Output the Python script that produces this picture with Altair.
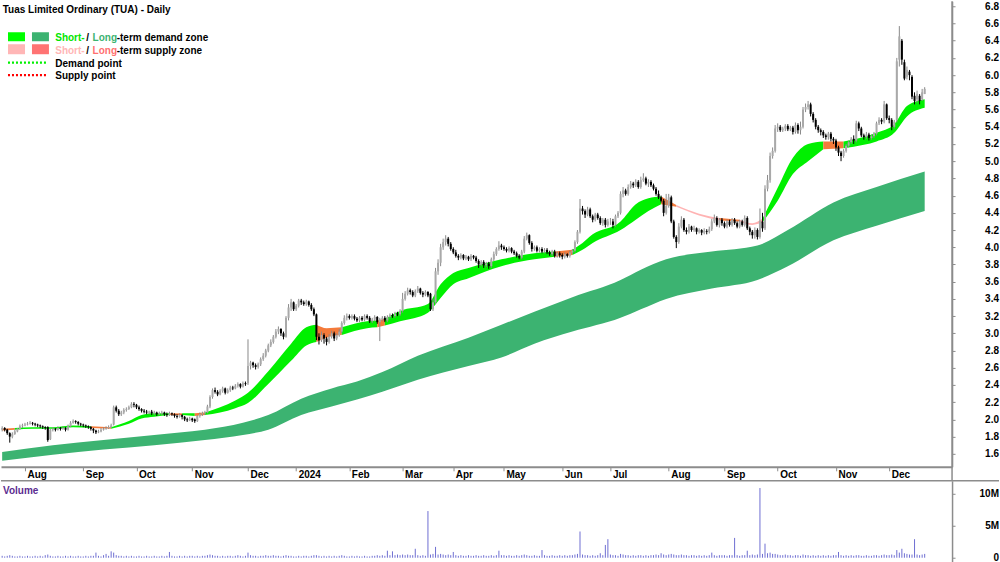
import altair as alt
import pandas as pd

FONT = "Liberation Sans"

# ---------------- categories / ticks ----------------
month_labels = ["Jul", "Aug", "Sep", "Oct", "Nov", "Dec", "2024", "Feb", "Mar", "Apr",
                "May", "Jun", "Jul", "Aug", "Sep", "Oct", "Nov", "Dec"]
month_days = [9, 23, 21, 22, 22, 19, 21, 21, 20, 20, 23, 19, 23, 22, 21, 23, 21, 15]
price_ticks = [1.6, 1.8, 2.0, 2.2, 2.4, 2.6, 2.8, 3.0, 3.2, 3.4, 3.6, 3.8, 4.0, 4.2,
               4.4, 4.6, 4.8, 5.0, 5.2, 5.4, 5.6, 5.8, 6.0, 6.2, 6.4, 6.6, 6.8]
volume_ticks = [0, 5, 10]

# ---------------- daily prices (cents) ----------------
open_c = [
    188,190,188,184,180,183,186,189,192,
    193,194,195,196,195,194,193,192,191,191,177,188,189,188,190,189,190,188,192,196,198,197,195,
    194,193,192,191,189,187,185,186,188,189,190,191,194,214,210,206,208,211,212,214,218,
    217,214,212,210,209,208,209,207,208,206,207,208,206,205,207,206,204,203,205,203,200,199,
    201,200,198,204,206,207,208,215,226,234,232,229,233,236,231,234,237,236,239,241,238,242,
    242,262,266,263,261,264,270,274,280,286,290,296,302,305,300,296,318,330,336,
    328,332,338,336,334,337,333,328,322,296,292,298,294,290,296,300,294,298,302,312,318,
    320,318,320,317,315,318,316,320,318,314,316,319,313,316,318,315,319,321,320,323,322,
    326,340,346,350,348,344,349,352,347,345,348,346,328,336,372,382,400,406,410,404,
    398,394,390,388,391,387,389,386,390,388,384,380,383,379,381,378,386,392,398,402,
    400,398,396,399,395,393,390,388,395,410,414,405,398,400,396,398,395,397,394,392,395,390,393,
    391,389,392,390,394,396,406,418,445,442,438,444,436,432,438,434,428,432,426,
    430,430,426,436,440,462,466,462,470,474,472,476,470,478,480,474,476,472,468,462,458,454,440,
    448,458,430,412,406,424,432,420,418,424,420,422,418,420,417,419,418,421,430,434,426,432,
    428,424,430,426,432,428,424,430,426,434,422,418,414,420,412,430,422,468,478,506,512,
    538,540,536,538,541,537,539,534,542,536,540,560,563,566,555,548,540,536,534,530,528,532,526,
    524,516,510,506,512,518,522,526,524,544,538,530,528,531,527,529,532,544,548,546,566,
    550,548,540,548,618,640,615,598,604,598,576,572,576,572,578,
]
high_c = [
    192,191,189,185,185,188,190,194,195,
    196,197,198,197,196,195,194,193,192,192,189,191,190,192,191,192,191,194,198,200,199,198,196,
    195,194,193,192,190,188,188,190,191,192,193,195,216,216,212,210,213,214,216,220,220,
    218,216,213,212,211,210,211,210,209,209,210,209,208,209,208,207,206,207,206,204,202,203,
    202,201,205,208,209,210,217,228,236,237,234,235,238,237,236,239,239,241,243,242,244,244,
    293,268,267,265,266,272,277,282,288,293,298,305,308,306,302,320,334,340,337,
    334,340,340,338,339,338,335,330,323,300,302,300,296,299,303,302,300,305,314,321,323,
    322,322,322,319,320,320,322,322,320,318,321,320,318,320,320,321,323,323,325,325,328,
    347,349,353,352,350,351,355,353,349,350,349,347,340,376,386,404,410,414,412,406,
    400,397,392,393,392,391,390,392,391,390,386,385,385,383,383,388,395,400,407,404,
    402,400,401,400,397,395,392,397,413,417,415,407,402,402,400,400,399,399,396,397,397,395,395,
    393,394,393,396,398,408,420,456,448,444,447,446,438,440,440,436,434,434,433,
    434,433,438,442,465,470,468,473,477,476,479,478,482,486,482,479,478,474,470,466,460,456,462,
    462,460,432,414,428,436,434,423,427,425,425,423,422,421,422,421,424,433,438,436,434,434,
    430,432,432,434,434,430,432,432,437,436,424,420,423,422,445,440,472,484,510,516,542,
    544,542,540,543,543,541,541,545,544,546,563,567,570,568,557,550,542,538,536,532,534,534,528,
    526,518,512,514,520,524,528,530,547,546,540,532,534,533,531,534,546,551,550,570,567,
    553,550,548,620,657,642,618,610,606,600,580,582,578,584,586,
]
low_c = [
    186,186,182,173,178,182,185,188,190,
    192,193,194,193,192,191,190,189,188,174,176,186,186,187,187,188,186,187,191,195,195,193,192,
    191,190,189,187,184,183,184,185,187,188,189,190,193,208,204,204,206,209,211,213,214,
    212,210,208,207,206,206,205,205,204,205,205,204,203,204,204,202,201,202,200,198,197,198,
    197,196,197,202,204,205,207,213,224,230,227,228,231,229,230,232,234,235,237,236,237,239,
    240,258,260,258,259,262,268,272,278,284,288,294,299,297,293,295,315,326,326,
    326,330,333,332,332,331,326,320,292,287,290,288,286,288,294,291,292,296,300,310,315,
    316,316,315,313,313,314,314,316,312,312,314,311,291,314,313,313,317,318,318,320,320,
    324,338,344,345,342,342,347,345,342,343,342,326,326,334,368,378,397,402,401,396,
    392,388,385,386,385,385,384,384,386,382,376,378,376,377,375,376,384,390,396,397,
    396,394,394,393,391,388,386,386,393,408,403,395,396,394,394,393,393,392,390,390,388,388,388,
    386,387,388,388,392,394,404,416,438,434,436,434,429,430,432,426,425,423,424,
    426,422,424,434,438,458,460,460,468,469,470,468,468,476,472,470,470,466,460,456,452,436,438,
    446,428,410,399,404,422,418,415,416,418,418,415,416,414,415,415,416,419,428,424,423,425,
    422,422,424,424,426,422,422,424,424,420,414,410,410,409,410,418,420,465,475,503,510,
    534,534,534,535,535,535,531,532,532,531,538,557,560,552,545,537,533,530,527,525,525,523,520,
    512,506,500,504,510,516,520,520,522,535,528,525,526,524,525,527,530,542,543,544,548,
    544,536,538,545,610,612,594,595,594,572,566,568,566,570,578,
]
close_c = [
    190,188,184,180,183,186,189,192,193,
    194,195,196,195,194,193,192,191,190,176,188,189,188,190,189,190,188,192,196,198,197,195,194,
    193,192,191,189,187,185,186,188,189,190,191,193,214,210,206,208,211,212,214,218,217,
    214,212,210,209,208,209,207,208,206,207,208,206,205,207,206,204,203,205,203,200,199,201,
    199,198,204,206,207,208,215,226,234,232,229,233,236,231,234,237,236,239,241,238,242,241,
    262,266,263,261,264,270,274,280,286,290,296,302,305,300,296,318,330,336,328,
    332,338,336,334,337,333,328,322,296,292,298,294,290,296,300,294,298,302,312,318,320,
    318,320,317,315,318,316,320,318,314,316,319,313,316,318,315,319,321,320,323,322,326,
    340,346,350,348,344,349,352,347,345,348,344,328,336,372,382,400,406,410,404,398,
    394,390,388,391,387,389,386,390,388,384,380,383,379,381,378,386,392,398,402,400,
    398,396,399,395,393,390,388,395,410,414,405,398,400,396,398,395,397,394,392,395,390,393,391,
    389,392,390,394,396,406,418,445,442,438,444,436,432,438,434,428,432,426,430,
    430,426,436,440,462,466,462,470,474,472,476,470,478,480,474,476,472,468,462,458,454,440,448,
    458,430,412,406,424,432,420,418,424,420,422,418,420,417,419,418,421,430,434,426,432,428,
    424,430,426,432,428,424,430,426,434,422,418,414,420,412,430,422,468,478,506,512,538,
    540,536,538,541,537,539,534,542,536,540,560,563,566,555,548,540,536,534,530,528,532,526,524,
    516,510,506,512,518,522,526,524,544,538,530,528,531,527,529,532,544,548,546,566,550,
    548,540,546,616,645,618,596,606,600,575,570,578,570,580,584,
]
# volume in tenths of a million shares
volume_d = [
    3,2,3,4,3,2,2,3,2,
    2,3,2,2,3,2,3,2,4,5,3,2,2,3,2,2,3,2,3,2,2,3,2,
    2,3,2,3,3,8,3,2,4,6,3,10,8,4,3,3,2,3,2,3,2,
    2,3,2,2,3,2,2,3,2,2,3,2,3,9,3,2,2,3,2,3,2,3,
    3,2,3,2,3,3,4,5,4,3,3,2,3,2,3,3,2,3,4,3,2,3,
    8,4,3,3,2,3,3,4,3,3,4,3,3,2,3,4,3,3,2,
    2,3,2,3,3,2,3,4,4,3,2,3,2,3,2,3,2,3,4,3,2,
    2,3,2,3,2,2,3,2,2,3,3,4,3,4,3,11,4,10,4,5,4,
    5,4,5,4,4,14,4,3,4,3,73,5,6,17,5,6,5,4,5,4,
    9,4,3,4,3,3,4,3,3,4,3,3,4,3,3,4,3,4,11,4,
    4,3,4,3,3,4,3,4,5,4,3,3,4,3,3,12,4,3,3,4,3,3,4,
    3,4,3,4,4,5,6,41,5,4,4,3,4,3,4,7,4,20,29,
    5,4,4,3,6,5,4,4,3,4,3,4,4,3,4,3,4,4,5,4,7,5,4,
    5,6,5,4,4,5,4,4,3,4,4,3,4,3,4,3,4,8,4,3,4,4,
    4,3,4,4,31,4,3,4,4,11,4,5,4,5,109,6,22,7,8,6,6,
    5,4,4,5,4,4,3,4,4,3,5,4,4,3,4,3,4,3,4,3,4,3,4,
    4,9,4,3,4,3,4,3,4,4,3,3,4,3,3,4,4,3,4,5,4,
    4,5,4,12,8,14,7,6,5,5,29,5,4,5,6,
]

# ---------------- zones (trading-day index, upper, lower, type) ----------------
# d = demand (green), s = supply (orange), p = weak supply (pink)
st_i = [0, 5, 12, 20, 28, 35, 43, 50, 55, 60, 66, 71, 76, 80, 86, 92, 97, 105, 114, 120,
        124, 128, 134, 144, 148, 151, 157, 168, 173, 178, 184, 197, 210, 218, 225, 229, 233,
        244, 250, 255, 260, 266, 275, 283, 291, 296, 300, 306, 312, 318, 324, 332, 340, 345,
        352, 357, 364]
st_hi = [1.89, 1.90, 1.91, 1.91, 1.93, 1.92, 1.91, 1.98, 2.05, 2.07, 2.07, 2.07, 2.07, 2.08,
         2.14, 2.22, 2.31, 2.56, 2.88, 3.07, 3.10, 3.06, 3.07, 3.14, 3.15, 3.17, 3.26, 3.34,
         3.57, 3.70, 3.76, 3.86, 3.93, 3.95, 3.97, 4.05, 4.15, 4.30, 4.50, 4.57, 4.59, 4.49,
         4.39, 4.34, 4.32, 4.28, 4.33, 4.69, 5.04, 5.20, 5.23, 5.23, 5.28, 5.33, 5.43, 5.64,
         5.72]
st_lo = [1.87, 1.88, 1.89, 1.89, 1.91, 1.90, 1.89, 1.95, 2.01, 2.03, 2.05, 2.05, 2.04, 2.05,
         2.08, 2.13, 2.19, 2.41, 2.68, 2.86, 2.90, 2.95, 2.98, 3.06, 3.07, 3.09, 3.14, 3.24,
         3.41, 3.57, 3.64, 3.78, 3.86, 3.89, 3.91, 3.97, 4.05, 4.20, 4.32, 4.42, 4.50, 4.47,
         4.37, 4.31, 4.30, 4.26, 4.29, 4.54, 4.85, 5.00, 5.14, 5.15, 5.19, 5.23, 5.33, 5.52,
         5.62]
st_zone = ["s", "d", "d", "d", "d", "s", "d", "d", "d", "d", "s", "d", "s", "d", "d", "d",
           "d", "d", "d", "d", "s", "s", "d", "d", "s", "d", "d", "d", "d", "d", "d", "d",
           "d", "s", "d", "d", "d", "d", "d", "d", "s", "p", "p", "s", "p", "p", "d", "d",
           "d", "d", "s", "d", "d", "d", "d", "d", "d"]

lt_i = [0, 20, 40, 60, 80, 95, 105, 118, 130, 140, 150, 164, 184, 197, 210, 225, 244, 252,
        262, 280, 298, 310, 328, 345, 364]
lt_hi = [1.62, 1.70, 1.76, 1.82, 1.88, 1.96, 2.05, 2.24, 2.36, 2.44, 2.55, 2.74, 2.95, 3.10,
         3.25, 3.42, 3.62, 3.74, 3.86, 3.95, 4.02, 4.20, 4.52, 4.70, 4.88]
lt_lo = [1.52, 1.59, 1.65, 1.70, 1.76, 1.82, 1.88, 2.05, 2.15, 2.23, 2.32, 2.46, 2.62, 2.72,
         2.88, 3.02, 3.18, 3.28, 3.40, 3.52, 3.62, 3.78, 4.08, 4.25, 4.42]

# ---------------- tables ----------------
n = len(close_c)
candles = pd.DataFrame({
    "i": list(range(n)),
    "open": [v / 100 for v in open_c],
    "high": [v / 100 for v in high_c],
    "low": [v / 100 for v in low_c],
    "close": [v / 100 for v in close_c],
})
up = candles["close"] >= candles["open"]
candles["body"] = ["#A9A9A9" if u else "#000000" for u in up]
candles["wick"] = ["#8A8A8A" if u else "#000000" for u in up]

vol = pd.DataFrame({"i": list(range(n)), "vol": [v / 10 for v in volume_d], "zero": 0.0})

zone_colors = {"d": "#00F000", "s": "#F47A3A", "p": "#FFB3B3"}
rows = []
seg = 0
k = 0
while k < len(st_i):
    z = st_zone[k]
    j = k
    while j + 1 < len(st_i) and st_zone[j + 1] == z:
        j += 1
    last = min(j + 1, len(st_i) - 1)
    for m in range(k, last + 1):
        rows.append({"seg": seg, "i": st_i[m], "hi": st_hi[m], "lo": st_lo[m],
                     "color": zone_colors[z]})
    seg += 1
    k = j + 1
short_zone = pd.DataFrame(rows)
long_zone = pd.DataFrame({"i": lt_i, "hi": lt_hi, "lo": lt_lo})

# month ticks
starts = [0]
for d in month_days[:-1]:
    starts.append(starts[-1] + d)
tick_vals = starts[1:]
tick_names = month_labels[1:]
expr = "''"
for v, t in reversed(list(zip(tick_vals, tick_names))):
    expr = f"datum.value == {v} ? '{t}' : ({expr})"

# ---------------- scales / axes ----------------
W = 952
PH = 466
VH = 82
xscale = alt.Scale(domain=[-0.46, 374.8], nice=False, zero=False, padding=0)
xaxis = alt.Axis(values=tick_vals, labelExpr=expr, orient="bottom", title=None, grid=False,
                 domainColor="#8C8C8C", domainWidth=2, tickColor="#8C8C8C", tickSize=4,
                 labelAlign="left", labelOffset=2, labelBaseline="alphabetic", labelPadding=7,
                 labelFont=FONT, labelFontWeight="bold", labelFontSize=10, labelColor="#000000",
                 labelOverlap=False, labelFlush=False)
X = alt.X("i:Q", scale=xscale, axis=xaxis)

yscale = alt.Scale(domain=[1.449, 6.858], nice=False, zero=False, padding=0)
yaxis = alt.Axis(values=price_ticks, format=".1f", orient="right", title=None, grid=False,
                 domainColor="#8C8C8C", domainWidth=1.5, tickColor="#8C8C8C", tickSize=3,
                 labelAlign="right", labelPadding=43.5, labelBaseline="middle",
                 labelFont=FONT, labelFontWeight="bold", labelFontSize=10, labelColor="#000000",
                 labelOverlap=False, labelFlush=False)


def Y(field):
    return alt.Y(f"{field}:Q", scale=yscale, axis=yaxis)


long_layer = alt.Chart(long_zone).mark_area(color="#3CB371", interpolate="monotone").encode(
    x=X, y=Y("hi"), y2="lo")
short_layer = alt.Chart(short_zone).mark_area(interpolate="monotone").encode(
    x=X, y=Y("hi"), y2="lo", color=alt.Color("color:N", scale=None), detail="seg:N")
wicks = alt.Chart(candles).mark_rule(strokeWidth=1).encode(
    x=X, y=Y("low"), y2="high", color=alt.Color("wick:N", scale=None))
bodies = alt.Chart(candles).mark_bar(size=2).encode(
    x=X, y=Y("open"), y2="close", color=alt.Color("body:N", scale=None))

one = pd.DataFrame({"a": [0]})


def txt(s, x, y, color="#000000", size=10):
    return alt.Chart(one).mark_text(text=s, align="left", baseline="alphabetic", font=FONT,
                                    fontWeight="bold", fontSize=size, color=color).encode(
        x=alt.value(x), y=alt.value(y))


def box(x1, x2, y1, y2, color):
    return alt.Chart(one).mark_rect(color=color).encode(
        x=alt.value(x1), x2=alt.value(x2), y=alt.value(y1), y2=alt.value(y2))


def dots(y, color):
    return alt.Chart(one).mark_rule(color=color, strokeWidth=2.2, strokeDash=[2, 2]).encode(
        x=alt.value(7), x2=alt.value(45), y=alt.value(y))


legend = [
    txt("Tuas Limited Ordinary (TUA) - Daily", 1.7, 11.6),
    box(7, 24, 31, 40, "#00FF00"), box(31, 48, 31, 40, "#3CB371"),
    txt("Short-", 54.3, 39.3, "#00E600"), txt("/", 85.3, 39.3), txt("Long", 91.7, 39.3, "#3CB371"),
    txt("-term demand zone", 115.8, 39.3),
    box(7, 24, 43, 53, "#FFB6B6"), box(31, 48, 43, 53, "#FF7373"),
    txt("Short-", 54.3, 52.3, "#FFB6B6"), txt("/", 85.3, 52.3), txt("Long", 91.7, 52.3, "#FF7070"),
    txt("-term supply zone", 115.8, 52.3),
    dots(61.5, "#00F000"), txt("Demand point", 54.3, 65.6),
    dots(74, "#FF0000"), txt("Supply point", 54.3, 78),
]

vline = alt.Chart(one).mark_rule(color="#8C8C8C", strokeWidth=1.5).encode(
    x=alt.value(W), y=alt.value(0), y2=alt.value(PH + 14))

price = alt.layer(long_layer, short_layer, wicks, bodies, vline, *legend).properties(
    width=W, height=PH)

vscale = alt.Scale(domain=[-0.78, 12.03], nice=False, zero=False, padding=0)
vaxis = alt.Axis(values=volume_ticks, labelExpr="datum.value == 0 ? '0' : datum.value + 'M'",
                 orient="right", title=None, grid=False, domainColor="#8C8C8C", domainWidth=1.5,
                 tickColor="#8C8C8C", tickSize=3, labelAlign="right", labelPadding=43.5,
                 labelBaseline="middle", labelFont=FONT, labelFontWeight="bold",
                 labelFontSize=10, labelColor="#000000", labelOverlap=False, labelFlush=False)
vol_bars = alt.Chart(vol).mark_rule(strokeWidth=1, color="#6E6ED2").encode(
    x=alt.X("i:Q", scale=xscale, axis=None),
    y=alt.Y("vol:Q", scale=vscale, axis=vaxis), y2="zero")
top_line = alt.Chart(one).mark_rule(color="#8C8C8C", strokeWidth=1.5).encode(
    x=alt.value(0), x2=alt.value(999), y=alt.value(0))
vol_title = txt("Volume", 2, 13.3, "#5B2C90")

volume = alt.layer(vol_bars, top_line, vol_title).properties(width=W, height=VH)

chart = alt.vconcat(price, volume, spacing=14, bounds="flush").properties(
    padding=0, background="#FFFFFF"
).configure_view(stroke=None)

chart.save("out.html", embed_options={"renderer": "svg", "actions": False})
